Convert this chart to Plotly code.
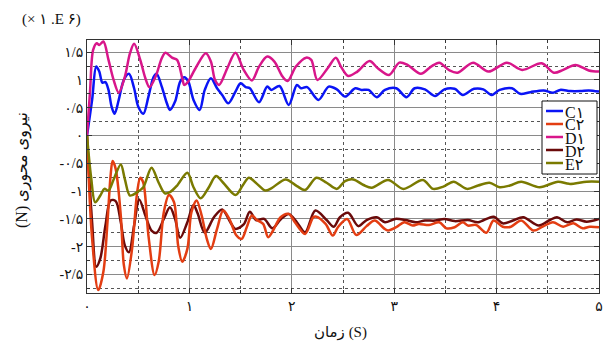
import plotly.graph_objects as go

# ---- data (time in s, force in 1E6 N) ----
t_c1 = [0, 0.05, 0.09, 0.12, 0.15, 0.18, 0.21, 0.24, 0.27, 0.31, 0.36, 0.41, 0.46, 0.50, 0.55, 0.60, 0.65, 0.68,
        0.73, 0.78, 0.81, 0.86, 0.91, 0.95, 0.99, 1.04, 1.10, 1.15, 1.21, 1.27, 1.32, 1.38, 1.45, 1.50, 1.55, 1.59,
        1.68, 1.76, 1.80, 1.88, 1.97, 2.05, 2.09, 2.15, 2.26, 2.36, 2.44, 2.52, 2.62, 2.68, 2.75, 2.83, 2.91, 3.02,
        3.12, 3.20, 3.30, 3.40, 3.49, 3.59, 3.67, 3.78, 3.87, 3.95, 4.03, 4.15, 4.23, 4.33, 4.46, 4.55, 4.62, 4.72,
        4.82, 4.90, 5.0]
c1 = [0, 0.64, 1.24, 1.15, 0.95, 0.96, 0.82, 0.52, 0.39, 0.64, 1.0, 1.11, 0.85, 0.52, 0.39, 0.70, 1.05, 1.11,
      0.88, 0.58, 0.46, 0.61, 0.97, 1.05, 0.97, 0.64, 0.46, 0.82, 1.03, 0.85, 0.73, 0.58, 0.79, 0.94, 0.87, 0.85,
      0.60, 0.88, 0.82, 0.89, 0.55, 0.91, 0.85, 0.87, 0.64, 0.88, 0.83, 0.70, 0.85, 0.82, 0.82, 0.69, 0.82, 0.85,
      0.69, 0.85, 0.83, 0.71, 0.83, 0.84, 0.73, 0.84, 0.83, 0.73, 0.82, 0.85, 0.75, 0.78, 0.81, 0.77, 0.82, 0.80,
      0.80, 0.81, 0.79]

t_d1 = [0, 0.03, 0.06, 0.095, 0.12, 0.16, 0.21, 0.26, 0.31, 0.37, 0.42, 0.46, 0.52, 0.57, 0.61, 0.67, 0.73, 0.765,
        0.83, 0.88, 0.93, 0.95, 0.98, 1.06, 1.16, 1.21, 1.25, 1.29, 1.37, 1.45, 1.53, 1.61, 1.68, 1.76, 1.83, 1.91,
        1.96, 2.04, 2.14, 2.19, 2.25, 2.35, 2.43, 2.48, 2.55, 2.64, 2.76, 2.84, 2.95, 3.05, 3.13, 3.26, 3.36, 3.44,
        3.54, 3.62, 3.77, 3.92, 4.10, 4.25, 4.44, 4.56, 4.65, 4.77, 4.90, 5.0]
d1 = [0, 0.80, 1.54, 1.66, 1.63, 1.69, 1.36, 1.0, 0.77, 1.06, 1.48, 1.65, 1.36, 1.03, 0.87, 1.06, 1.39, 1.49,
      1.40, 1.36, 1.03, 0.91, 0.95, 1.21, 1.48, 1.33, 1.0, 0.91, 1.21, 1.49, 1.18, 0.99, 1.24, 1.42, 1.33, 1.06,
      0.98, 1.24, 1.40, 1.36, 1.0, 1.21, 1.40, 1.24, 1.07, 1.15, 1.34, 1.21, 1.09, 1.31, 1.27, 1.11, 1.24, 1.31,
      1.17, 1.13, 1.31, 1.15, 1.31, 1.18, 1.30, 1.13, 1.18, 1.27, 1.17, 1.15]

t_c2 = [0, 0.05, 0.11, 0.16, 0.20, 0.23, 0.25, 0.28, 0.33, 0.36, 0.39, 0.44, 0.49, 0.52, 0.55, 0.60, 0.66, 0.70,
        0.75, 0.80, 0.85, 0.89, 0.93, 0.98, 1.02, 1.07, 1.12, 1.17, 1.21, 1.27, 1.33, 1.39, 1.46, 1.51, 1.56, 1.61,
        1.66, 1.72, 1.77, 1.82, 1.89, 1.97, 2.03, 2.13, 2.21, 2.24, 2.33, 2.40, 2.45, 2.54, 2.63, 2.73, 2.81, 2.90,
        2.94, 3.02, 3.10, 3.18, 3.24, 3.34, 3.44, 3.51, 3.59, 3.67, 3.72, 3.80, 3.90, 3.97, 4.06, 4.14, 4.24, 4.36,
        4.45, 4.55, 4.65, 4.75, 4.84, 4.91, 5.0]
c2 = [0, -1.86, -2.78, -2.45, -1.56, -0.73, -0.46, -0.60, -1.44, -2.33, -2.57, -2.04, -1.02, -0.76, -0.85, -1.80,
      -2.51, -2.27, -1.38, -1.07, -1.20, -1.98, -2.27, -2.04, -1.38, -1.17, -1.44, -1.86, -2.04, -1.68, -1.35, -1.50,
      -1.80, -1.86, -1.65, -1.44, -1.52, -1.59, -1.83, -1.70, -1.47, -1.41, -1.56, -1.77, -1.47, -1.46, -1.59, -1.80,
      -1.65, -1.50, -1.79, -1.63, -1.53, -1.67, -1.71, -1.65, -1.56, -1.62, -1.59, -1.61, -1.56, -1.67, -1.65, -1.56,
      -1.62, -1.61, -1.75, -1.53, -1.64, -1.64, -1.53, -1.71, -1.64, -1.56, -1.64, -1.58, -1.67, -1.64, -1.65]

t_d2 = [0, 0.05, 0.09, 0.13, 0.18, 0.23, 0.28, 0.33, 0.37, 0.41, 0.46, 0.51, 0.57, 0.63, 0.68, 0.75, 0.81, 0.86,
        0.91, 0.98, 1.04, 1.08, 1.15, 1.24, 1.32, 1.40, 1.45, 1.53, 1.59, 1.65, 1.73, 1.81, 1.89, 1.97, 2.05, 2.13,
        2.23, 2.34, 2.41, 2.47, 2.55, 2.65, 2.73, 2.83, 2.91, 3.01, 3.11, 3.21, 3.30, 3.40, 3.49, 3.59, 3.72, 3.82,
        3.97, 4.06, 4.16, 4.26, 4.41, 4.52, 4.59, 4.69, 4.78, 4.88, 5.0]
d2 = [0, -1.56, -2.36, -2.21, -1.62, -1.17, -1.18, -1.56, -1.98, -2.10, -1.62, -1.15, -1.44, -1.71, -1.75, -1.50,
      -1.29, -1.50, -1.84, -1.56, -1.25, -1.40, -1.75, -1.47, -1.33, -1.56, -1.68, -1.60, -1.37, -1.52, -1.50, -1.67,
      -1.51, -1.41, -1.56, -1.74, -1.35, -1.52, -1.64, -1.47, -1.39, -1.63, -1.52, -1.47, -1.56, -1.50, -1.52, -1.56,
      -1.53, -1.53, -1.50, -1.54, -1.52, -1.56, -1.46, -1.58, -1.53, -1.47, -1.62, -1.52, -1.47, -1.56, -1.51, -1.55,
      -1.50]

t_e2 = [0, 0.04, 0.08, 0.13, 0.17, 0.21, 0.26, 0.33, 0.37, 0.42, 0.49, 0.55, 0.63, 0.70, 0.76, 0.81, 0.88, 0.98,
        1.04, 1.11, 1.19, 1.26, 1.33, 1.45, 1.52, 1.58, 1.66, 1.74, 1.80, 1.94, 2.05, 2.13, 2.24, 2.34, 2.44, 2.52,
        2.60, 2.70, 2.78, 2.94, 3.09, 3.28, 3.38, 3.48, 3.58, 3.71, 3.82, 3.93, 4.03, 4.13, 4.24, 4.42, 4.60, 4.71,
        4.88, 5.0]
e2 = [0, -0.75, -1.20, -1.08, -0.96, -0.99, -0.79, -0.52, -0.79, -1.08, -1.02, -0.93, -0.58, -0.85, -1.04, -1.02,
      -0.90, -0.67, -0.93, -1.13, -0.93, -0.73, -0.85, -1.07, -0.90, -0.76, -0.87, -0.99, -0.95, -0.79, -0.91, -0.98,
      -0.76, -0.85, -0.96, -0.82, -0.79, -0.89, -0.94, -0.80, -0.96, -0.80, -0.96, -0.92, -0.83, -0.96, -0.90, -0.85,
      -0.93, -0.90, -0.83, -0.93, -0.83, -0.87, -0.83, -0.83]

names = ["C۱", "C۲", "D۱", "D۲", "E۲"]
colors = ["#0a14f5", "#e33d12", "#d8168a", "#6a0a0a", "#7a7a00"]

x_tickvals = [0, 1, 2, 3, 4, 5]
x_ticktext = ["۰", "۱", "۲", "۳", "۴", "۵"]
y_tickvals = [-2.5, -2, -1.5, -1, -0.5, 0, 0.5, 1, 1.5]
y_ticktext = ["-۲/۵", "-۲", "-۱/۵", "-۱", "-۰/۵", "۰", "۰/۵", "۱", "۱/۵"]

x_title = "زمان (S)"
y_title = "(N) نیروی محوری"
scale_note = "(× ۱ .E ۶)"

LRE, PDF = "\u202a", "\u202c"

series = [(t_c1, c1), (t_c2, c2), (t_d1, d1), (t_d2, d2), (t_e2, e2)]
draw_order = [3, 1, 4, 0, 2]

fig = go.Figure()
for i in draw_order:
    tx, vy = series[i]
    fig.add_trace(go.Scatter(x=tx, y=vy, mode="lines", name=names[i],
                             line=dict(color=colors[i], width=2.5, shape="spline", smoothing=0.9),
                             showlegend=False))

W, H = 616, 347
L, R, T, B = 87, 17, 40, 54
pw, ph = W - L - R, H - T - B

def px(x):
    return (x - L) / pw

def py(y):
    return (H - B - y) / ph

tickfont = dict(family="Liberation Serif, DejaVu Sans", size=14, color="#111")
axis_common = dict(showline=True, linecolor="#333", linewidth=1, mirror="allticks",
                   ticks="inside", ticklen=5, tickcolor="#333",
                   showgrid=True, gridcolor="#8a8a8a", gridwidth=1.3, zeroline=False,
                   tickfont=tickfont)

fig.update_xaxes(range=[0, 5], tickvals=x_tickvals, ticktext=x_ticktext,
                 minor=dict(dtick=0.5, tick0=0, ticks="inside", ticklen=3, tickcolor="#333",
                            showgrid=True, gridcolor="#555", griddash="dot", gridwidth=1),
                 **axis_common)
fig.update_yaxes(range=[-2.833, 1.718], tickvals=y_tickvals, ticktext=y_ticktext,
                 minor=dict(dtick=0.25, tick0=0, ticks="inside", ticklen=3, tickcolor="#333",
                            showgrid=True, gridcolor="#555", griddash="dot", gridwidth=1),
                 **axis_common)

shapes = []
annotations = []
# legend box
bx0, bx1, by0, by1 = 542, 597, 101, 174
shapes.append(dict(type="rect", xref="paper", yref="paper", x0=px(bx0), x1=px(bx1), y0=py(by1), y1=py(by0),
                   line=dict(color="#111", width=1), fillcolor="white", layer="above"))
for k in range(5):
    yc = 111 + 13 * k
    shapes.append(dict(type="line", xref="paper", yref="paper", x0=px(546), x1=px(563), y0=py(yc), y1=py(yc),
                       line=dict(color=colors[k], width=2.5), layer="above"))
    annotations.append(dict(xref="paper", yref="paper", x=px(563), y=py(yc + 1), text=names[k],
                            showarrow=False, xanchor="left", yanchor="middle",
                            font=dict(family="Liberation Serif, DejaVu Sans", size=16, color="#111")))

annotations.append(dict(xref="paper", yref="paper", x=px(20), y=py(19), text=LRE + scale_note + PDF,
                        showarrow=False, xanchor="left", yanchor="middle",
                        font=dict(family="Liberation Serif, DejaVu Sans", size=15, color="#111")))
annotations.append(dict(xref="paper", yref="paper", x=px(340), y=py(332), text=LRE + x_title + PDF,
                        showarrow=False, xanchor="center", yanchor="middle",
                        font=dict(family="Liberation Serif, DejaVu Sans", size=15, color="#111")))
annotations.append(dict(xref="paper", yref="paper", x=px(23), y=py(170), text=LRE + y_title + PDF,
                        showarrow=False, textangle=-90, xanchor="center", yanchor="middle",
                        font=dict(family="Liberation Serif, DejaVu Sans", size=16, color="#111")))

fig.update_layout(width=W, height=H, margin=dict(l=L, r=R, t=T, b=B),
                  plot_bgcolor="white", paper_bgcolor="white",
                  shapes=shapes, annotations=annotations, showlegend=False)

fig.write_html("out.html", config={"displayModeBar": False},
               post_script="document.body.style.margin='0';document.body.style.overflow='hidden';")
